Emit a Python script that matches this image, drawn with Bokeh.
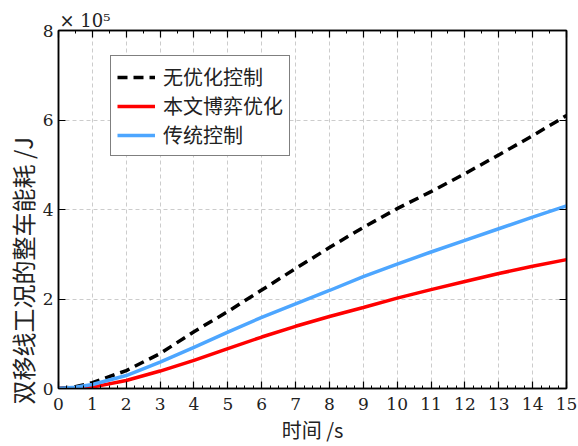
from bokeh.plotting import figure
from bokeh.models import Range1d, FixedTicker, LinearAxis, Legend, LegendItem, Title
from bokeh.embed import file_html
from bokeh.resources import INLINE

# time (s)
t = [0, 0.5, 1, 2, 3, 4, 5, 6, 7, 8, 9, 10, 11, 12, 13, 14, 15]
# energy consumption (x 10^5 J)
no_control = [0, 0.04, 0.13, 0.40, 0.78, 1.27, 1.72, 2.20, 2.68, 3.15, 3.60, 4.02, 4.40, 4.80, 5.22, 5.65, 6.10]
game_opt = [0, 0.005, 0.03, 0.18, 0.39, 0.63, 0.89, 1.15, 1.39, 1.61, 1.81, 2.02, 2.21, 2.39, 2.57, 2.73, 2.88]
traditional = [0, 0.03, 0.09, 0.29, 0.59, 0.92, 1.26, 1.59, 1.89, 2.19, 2.50, 2.78, 3.05, 3.31, 3.57, 3.83, 4.08]

x_ticks = list(range(0, 16))
y_ticks = [0, 2, 4, 6, 8]
series_names = ["无优化控制", "本文博弈优化", "传统控制"]
x_label = "时间 /s"
y_label = "双移线工况的整车能耗 /J"
scale_text = "× 10⁵"

SERIF = "DejaVu Serif"
CJK = "Noto Sans CJK SC"

p = figure(width=578, height=446, x_range=Range1d(0, 15), y_range=Range1d(0, 8),
           output_backend="svg", toolbar_location=None,
           min_border_left=58, min_border_right=12, min_border_top=30, min_border_bottom=58)
p.background_fill_color = "white"
p.border_fill_color = "white"
p.outline_line_color = "black"
p.outline_line_width = 1.5

p.title.text = scale_text
p.title.text_font = SERIF
p.title.text_font_size = "18px"
p.title.text_font_style = "normal"
p.title.text_color = "#222222"
p.title.align = "left"
p.title.offset = 1
p.title.standoff = 0

# grid
for g in (p.xgrid, p.ygrid):
    g.grid_line_color = "#cccccc"
    g.grid_line_dash = "4 3"
    g.grid_line_width = 1
p.xgrid.ticker = FixedTicker(ticks=x_ticks)
p.ygrid.ticker = FixedTicker(ticks=y_ticks)

def style_axis(ax, labels=True, minor=None):
    ax.axis_line_color = "black"
    ax.axis_line_width = 1.5
    ax.major_tick_in = 7
    ax.major_tick_out = 0
    ax.minor_tick_in = 3
    ax.minor_tick_out = 0
    ax.major_tick_line_color = "black"
    ax.major_tick_line_width = 1.2
    ax.minor_tick_line_color = "black" if minor else None
    ax.major_label_text_font = SERIF
    ax.major_label_text_font_size = "17px"
    ax.major_label_text_color = "#222222"
    if not labels:
        ax.major_label_text_font_size = "0px"
        ax.major_label_text_alpha = 0

xb = p.xaxis[0]
xb.ticker = FixedTicker(ticks=x_ticks, minor_ticks=[i * 0.25 for i in range(61)])
style_axis(xb, minor=True)
xb.major_label_standoff = 9
xb.axis_label = x_label
xb.axis_label_text_font = CJK
xb.axis_label_text_font_style = "normal"
xb.axis_label_text_font_size = "20px"
xb.axis_label_text_color = "#222222"
xb.axis_label_standoff = 2

yl = p.yaxis[0]
yl.ticker = FixedTicker(ticks=y_ticks)
style_axis(yl, minor=False)
yl.major_label_standoff = 5

p.add_layout(Title(text=y_label, align="left", offset=-16, standoff=0,
                   text_font=CJK, text_font_size="24px", text_font_style="normal",
                   text_color="#222222"), "left")

xt = LinearAxis(ticker=FixedTicker(ticks=x_ticks, minor_ticks=[i * 0.5 for i in range(31)]))
style_axis(xt, labels=False, minor=True)
xt.major_label_standoff = 0
p.add_layout(xt, "above")

yr = LinearAxis(ticker=FixedTicker(ticks=y_ticks))
style_axis(yr, labels=False, minor=False)
yr.major_label_standoff = 0
p.add_layout(yr, "right")

r_no = p.line(t, no_control, line_color="black", line_width=3.5, line_dash="10 6")
r_game = p.line(t, game_opt, line_color="#ff0000", line_width=3.5)
r_trad = p.line(t, traditional, line_color="#4da6ff", line_width=3.5)

legend = Legend(items=[
    LegendItem(label=series_names[0], renderers=[r_no]),
    LegendItem(label=series_names[1], renderers=[r_game]),
    LegendItem(label=series_names[2], renderers=[r_trad]),
], location=(52, 232))
legend.label_text_font = CJK
legend.label_text_font_size = "20px"
legend.label_text_line_height = 1.0
legend.label_text_color = "#222222"
legend.glyph_width = 38
legend.glyph_height = 20
legend.label_height = 20
legend.label_standoff = 8
legend.spacing = 0
legend.padding = 6
legend.margin = 0
legend.border_line_color = "black"
legend.border_line_width = 1.5
legend.background_fill_color = "white"
legend.background_fill_alpha = 1
p.add_layout(legend, "center")

open("out.html", "w").write(file_html(p, INLINE))
